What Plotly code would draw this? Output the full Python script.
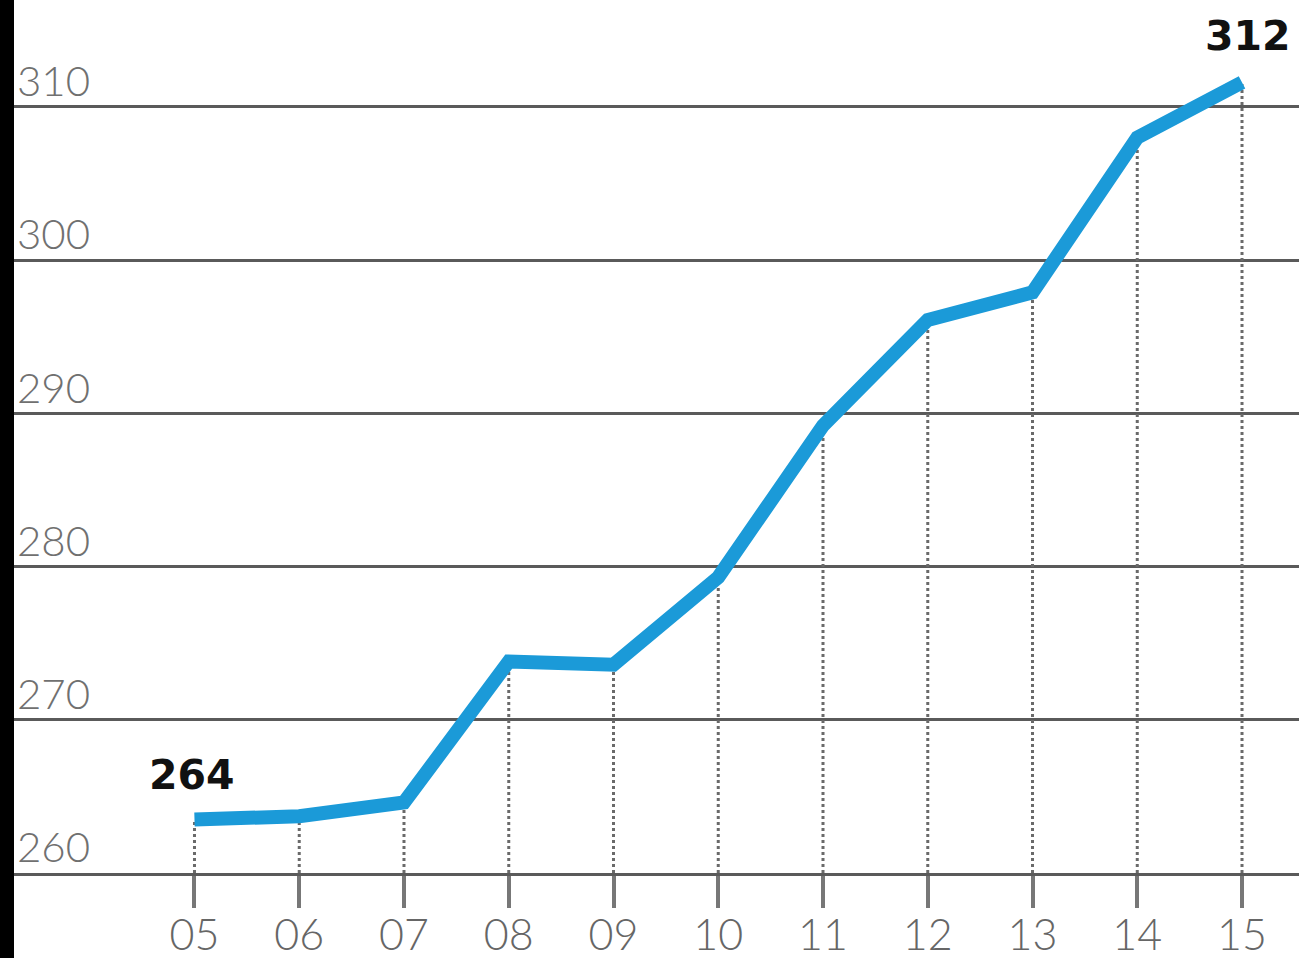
import plotly.graph_objects as go

years = [5, 6, 7, 8, 9, 10, 11, 12, 13, 14, 15]
year_labels = ["05", "06", "07", "08", "09", "10", "11", "12", "13", "14", "15"]
values = [263.5, 263.7, 264.6, 273.8, 273.6, 279.3, 289.2, 296.1, 297.9, 308.0, 311.6]
y_ticks = [260, 270, 280, 290, 300, 310]
y_tick_labels = ["260", "270", "280", "290", "300", "310"]
callouts = ["264", "312"]

GRAY = "#5a5a5a"
BLUE = "#1b9ad8"
FONT = "Lato"
BOLD_FONT = "DejaVu Sans"

fig = go.Figure()

# dotted drop lines from each point to the baseline
for x, v in zip(years, values):
    fig.add_trace(go.Scatter(
        x=[x, x], y=[y_ticks[0], v], mode="lines",
        line=dict(color="#6a6a6a", width=3, dash="dot"),
        hoverinfo="skip", showlegend=False,
    ))

fig.add_trace(go.Scatter(
    x=years, y=values, mode="lines",
    line=dict(color=BLUE, width=14),
    showlegend=False,
))

fig.add_annotation(x=years[0], y=values[0], text=callouts[0], showarrow=False,
                   xanchor="center", yanchor="bottom", yshift=18, xshift=-2,
                   font=dict(family=BOLD_FONT, size=41, color="#111111", weight="bold"))
fig.add_annotation(x=years[-1], y=values[-1], text=callouts[1], showarrow=False,
                   xanchor="center", yanchor="bottom", yshift=20, xshift=6,
                   font=dict(family=BOLD_FONT, size=41, color="#111111", weight="bold"))

# black strip at left edge
fig.add_shape(type="rect", xref="paper", yref="paper",
              x0=-14 / 1285, x1=0, y0=-1, y1=1.1,
              fillcolor="black", line=dict(width=0), layer="above")

fig.update_layout(
    width=1299, height=958,
    margin=dict(l=14, r=0, t=0, b=85),
    paper_bgcolor="white", plot_bgcolor="white",
    xaxis=dict(
        range=[3.277, 15.544], automargin=False,
        tickmode="array", tickvals=years, ticktext=year_labels,
        ticks="outside", ticklen=32, tickwidth=4, tickcolor="#777777",
        ticklabelstandoff=-10,
        showgrid=False, zeroline=False,
        showline=True, linecolor=GRAY, linewidth=3,
        tickfont=dict(family=FONT, size=43, color="#666666", weight=300),
    ),
    yaxis=dict(
        range=[260, 316.98], automargin=False,
        tickmode="array", tickvals=y_ticks, ticktext=y_tick_labels,
        showgrid=True, gridcolor=GRAY, gridwidth=3,
        zeroline=False, showline=False, ticks="",
        ticklabelposition="inside top", ticklabelshift=4,
        tickfont=dict(family=FONT, size=42, color="#707070", weight=300),
    ),
)

fig.write_html("out.html")
